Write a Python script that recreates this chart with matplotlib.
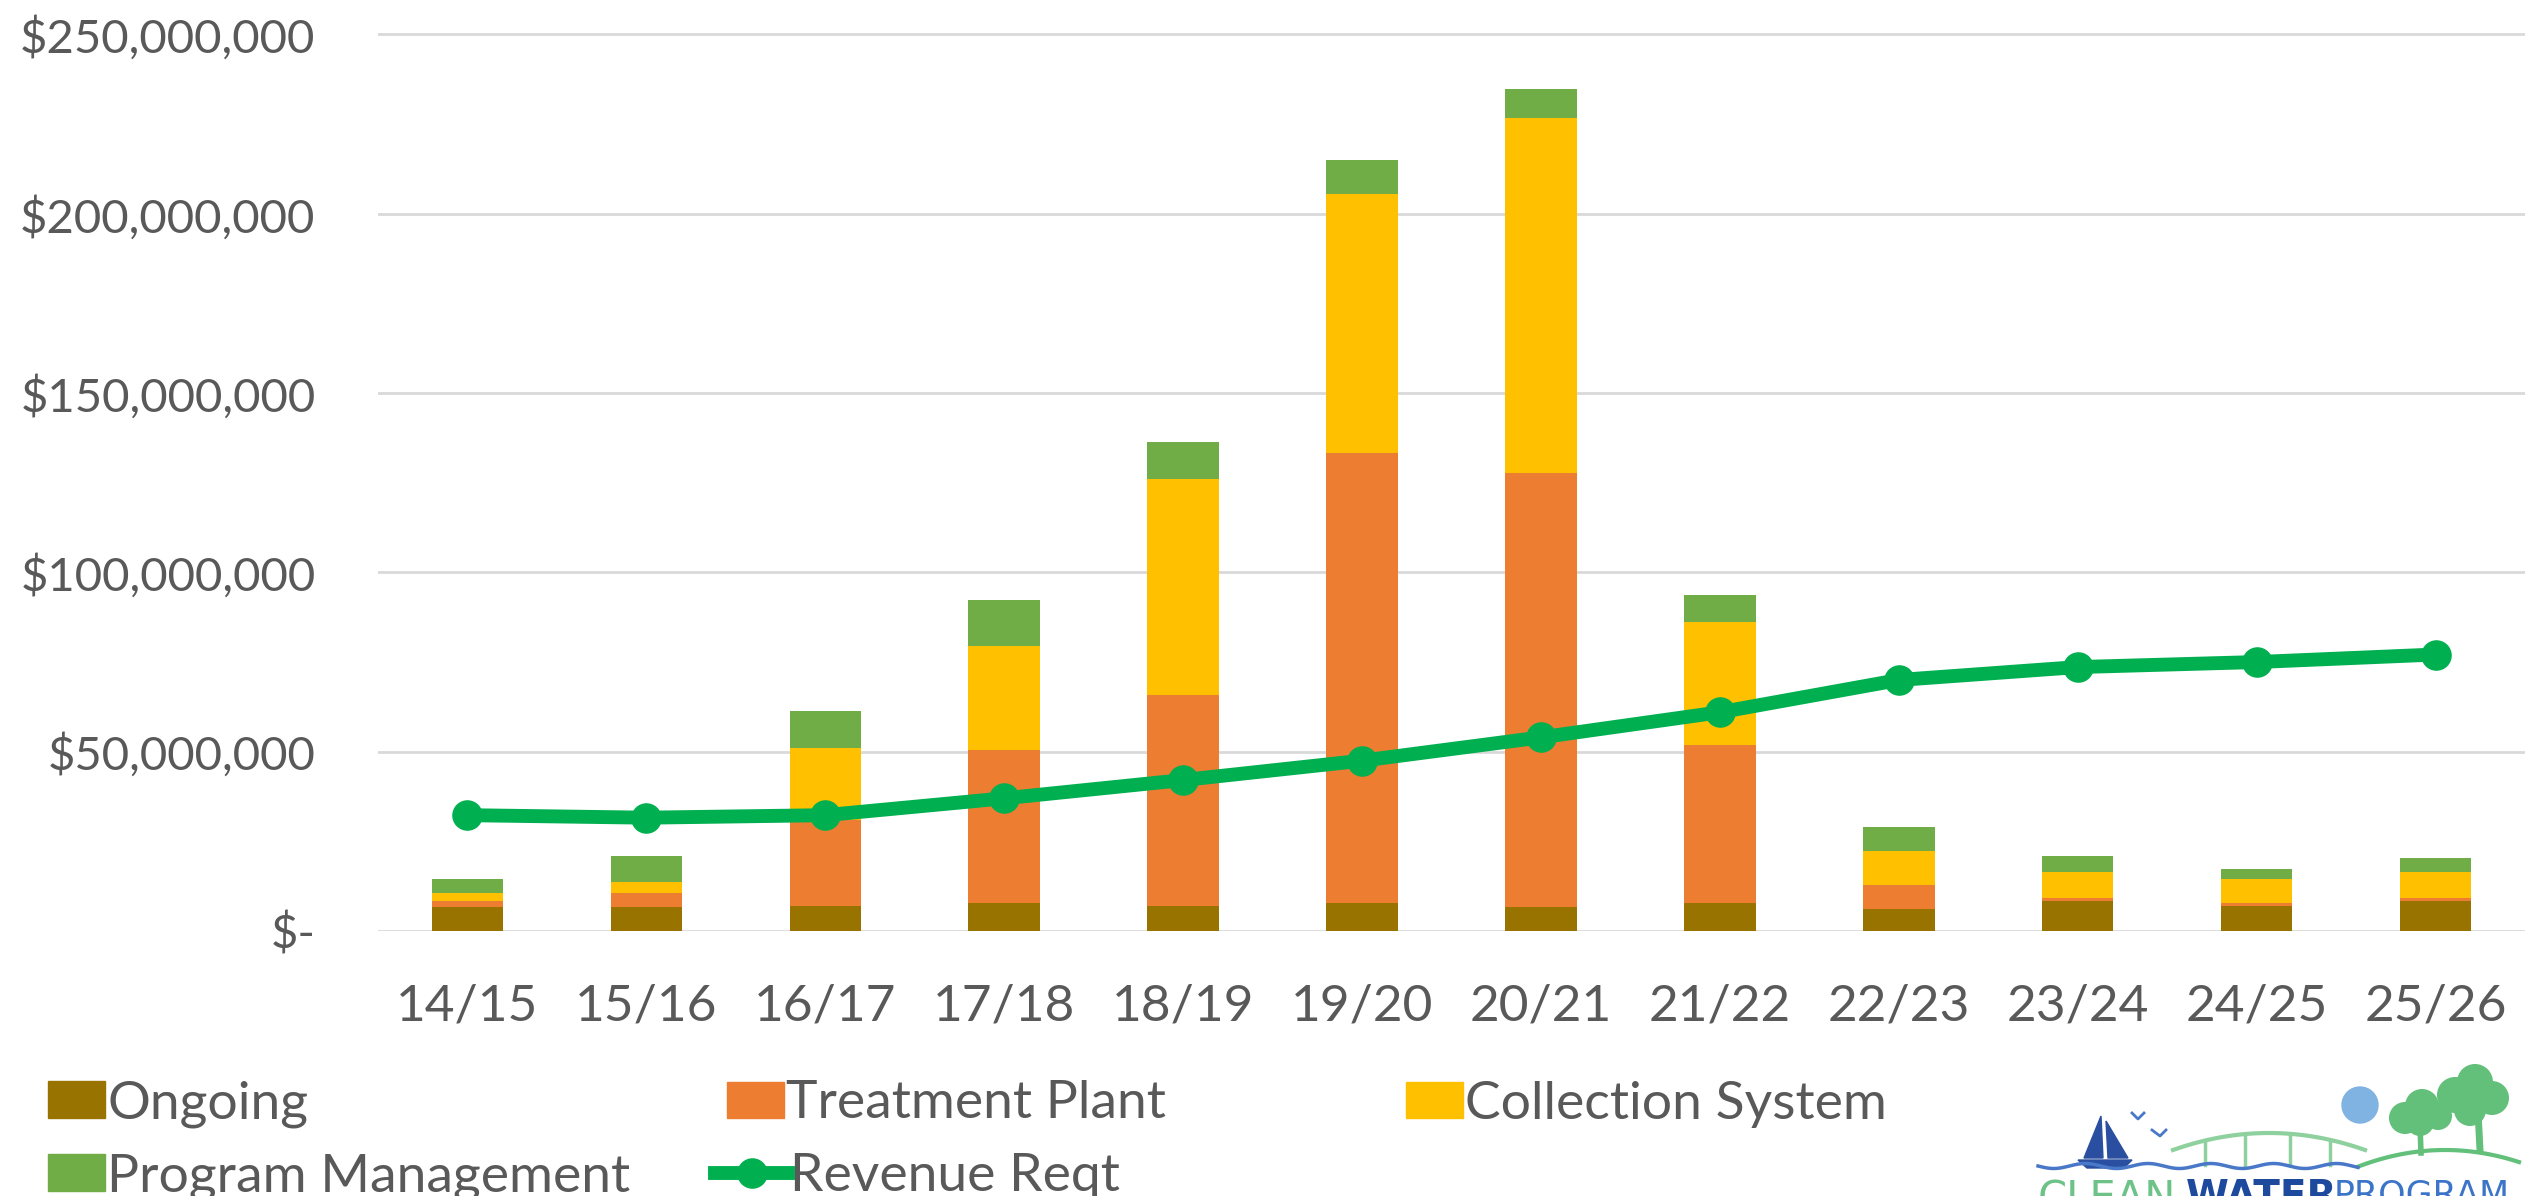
import numpy as np
import matplotlib.pyplot as plt
from matplotlib.ticker import FuncFormatter, MultipleLocator
from matplotlib.patches import Patch, Circle, Polygon
from matplotlib.lines import Line2D

# values in $ millions
years = ['14/15', '15/16', '16/17', '17/18', '18/19', '19/20',
         '20/21', '21/22', '22/23', '23/24', '24/25', '25/26']
ongoing = [6.8, 6.8, 7.0, 7.7, 7.0, 7.7, 6.8, 7.7, 6.1, 8.4, 7.0, 8.4]
treatment = [1.6, 3.9, 24.0, 42.8, 58.8, 125.7, 120.8, 44.1, 6.7, 0.9, 0.7, 0.7]
collection = [2.1, 2.9, 20.0, 29.1, 60.2, 72.0, 99.0, 34.5, 9.6, 7.2, 6.7, 7.4]
program_mgmt = [3.9, 7.3, 10.3, 12.6, 10.3, 9.6, 8.1, 7.4, 6.7, 4.5, 3.0, 3.8]
revenue_reqt = [32.3, 31.6, 32.3, 37.0, 42.1, 47.5, 54.0, 61.0, 70.0, 73.6, 75.0, 77.1]

W, H = 2529, 1196
TXT = '#595959'
FONT = 'Lato'

c_ongoing = '#997300'
c_treat = '#ED7D31'
c_coll = '#FFC000'
c_pm = '#70AD47'
c_rev = '#00B050'

plt.rcParams['font.family'] = [FONT, 'DejaVu Sans']

fig = plt.figure(figsize=(W / 100, H / 100), dpi=100)
ax = fig.add_axes([378 / W, (H - 931) / H, (2525 - 378) / W, (931 - 30.9) / H])

x = np.arange(len(years))
bw = 0.4
bottom = np.zeros(len(years))
for vals, col, lab in [(ongoing, c_ongoing, 'Ongoing'),
                       (treatment, c_treat, 'Treatment Plant'),
                       (collection, c_coll, 'Collection System'),
                       (program_mgmt, c_pm, 'Program Management')]:
    ax.bar(x, vals, bw, bottom=bottom, color=col, label=lab, zorder=2)
    bottom += np.array(vals)

ax.plot(x, revenue_reqt, color=c_rev, lw=10, marker='o', ms=21,
        label='Revenue Reqt', zorder=3, solid_capstyle='round')

ax.set_xlim(-0.5, 11.5)
ax.set_ylim(0, 251)
ax.yaxis.set_major_locator(MultipleLocator(50))
ax.yaxis.set_major_formatter(FuncFormatter(
    lambda v, p: '$-' if v == 0 else f'${v * 1e6:,.0f}'))
ax.set_xticks(x)
ax.set_xticklabels(years)
ax.grid(axis='y', color='#D9D9D9', lw=2)
ax.set_axisbelow(True)
for s in ax.spines.values():
    s.set_visible(False)
ax.tick_params(axis='y', length=0, pad=45, labelsize=34, labelcolor=TXT)
ax.tick_params(axis='x', length=0, pad=38, labelsize=37, labelcolor=TXT)

# legend, one entry each so the columns sit where the original has them
LFS = 38.5
entries = [
    (Patch(color=c_ongoing), 'Ongoing', 48, 1104, 1.07),
    (Patch(color=c_treat), 'Treatment Plant', 727, 1104, 1.07),
    (Patch(color=c_coll), 'Collection System', 1406, 1104, 1.07),
    (Patch(color=c_pm), 'Program Management', 48, 1177, 1.07),
    (Line2D([], [], color=c_rev, lw=10, marker='o', ms=21), 'Revenue Reqt', 715, 1177, 1.37),
]
for h, lab, lx, ly, hl in entries:
    fig.legend([h], [lab], loc='center left', bbox_to_anchor=(lx / W, 1 - ly / H),
               frameon=False, borderpad=0, borderaxespad=0, handletextpad=0.04,
               handlelength=hl, handleheight=0.66, fontsize=LFS, labelcolor=TXT)

# Clean Water Program logo, bottom right (drawn in pixel coords)
lg = fig.add_axes([0, 0, 1, 1], zorder=5)
lg.set_xlim(0, W)
lg.set_ylim(H, 0)
lg.axis('off')
lg.patch.set_alpha(0)

blue_d = '#2B4FA0'
green_l = '#62C07A'
lg.add_patch(Circle((2360, 1105), 18, color='#80B3E2'))
for cx, cy, r in [(2405, 1118, 16), (2422, 1106, 17), (2438, 1116, 14),
                  (2455, 1095, 18), (2475, 1082, 18), (2492, 1098, 17),
                  (2470, 1110, 16), (2420, 1122, 14)]:
    lg.add_patch(Circle((cx, cy), r, color=green_l, lw=0))
lg.plot([2420, 2421], [1125, 1153], color=green_l, lw=4)
lg.plot([2478, 2480], [1112, 1150], color=green_l, lw=5)
hx = np.linspace(2358, 2519, 40)
lg.plot(hx, 1152 + 0.0022 * (hx - 2445) ** 2 - 2, color=green_l, lw=3)
bx = np.linspace(2173, 2365, 60)
by = 1133 + 17 * ((bx - 2269) / 96) ** 2
lg.plot(bx, by, color='#8ED19E', lw=3)
for vx in [2205, 2245, 2290, 2330]:
    lg.plot([vx, vx], [1133 + 17 * ((vx - 2269) / 96) ** 2, 1165], color='#8ED19E', lw=2.5)
wx = np.linspace(2038, 2358, 200)
lg.plot(wx, 1166 + 2.5 * np.sin((wx - 2038) / 10), color='#4A78C8', lw=2.5)
lg.add_patch(Polygon([(2101, 1116), (2084, 1158), (2103, 1158)], color=blue_d))
lg.add_patch(Polygon([(2106, 1121), (2128, 1158), (2108, 1158)], color=blue_d))
lg.add_patch(Polygon([(2078, 1160), (2132, 1160), (2124, 1168), (2087, 1168)], color=blue_d))
lg.plot([2132, 2138, 2144], [1113, 1119, 1113], color='#4A78C8', lw=2)
lg.plot([2152, 2160, 2166], [1130, 1136, 1130], color='#4A78C8', lw=2)
# the logo's lettering is cut by the bottom edge in the original
lg.text(2038, 1178, 'CLEAN', color='#6DC288', fontsize=30, va='top', ha='left',
        family='DejaVu Sans')
lg.text(2186, 1178, 'WATER', color='#1D4A9C', fontsize=28, va='top', ha='left',
        fontweight='bold', family='DejaVu Sans')
lg.text(2334, 1178, 'PROGRAM', color='#3B74C8', fontsize=25, va='top', ha='left',
        family='DejaVu Sans')

fig.savefig('out.png', dpi=100)
